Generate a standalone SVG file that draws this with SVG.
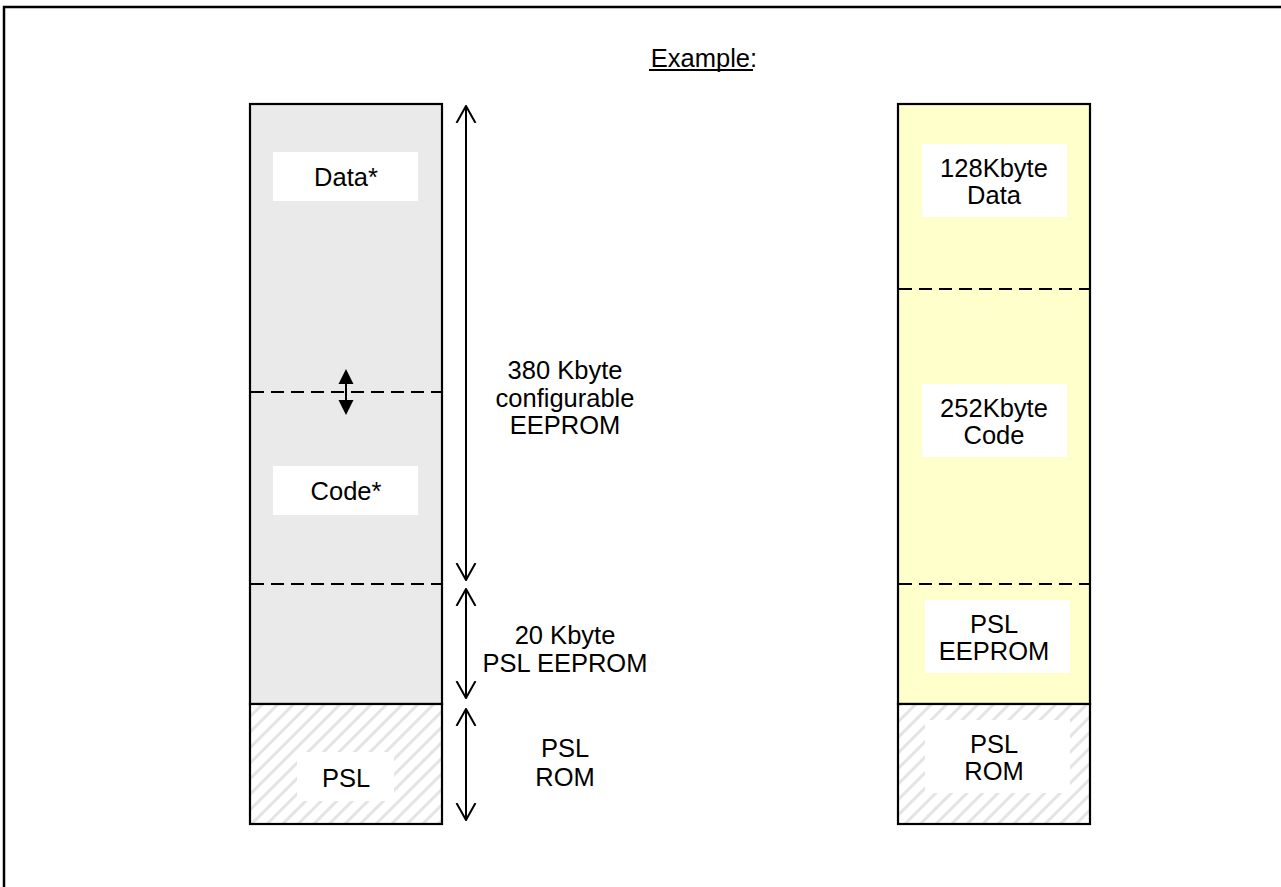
<svg xmlns="http://www.w3.org/2000/svg" width="1281" height="887" viewBox="0 0 1281 887">
<style>
text{font-family:"Liberation Sans",Arial,sans-serif;font-size:25.5px;fill:#000;text-anchor:middle}
.col{stroke:#000;stroke-width:2.2}
.dash{stroke:#000;stroke-width:2;stroke-dasharray:13 7;fill:none}
.lbl{fill:#fff}
.arr{stroke:#000;stroke-width:2;fill:none}
</style>
<defs>
<pattern id="hatch" patternUnits="userSpaceOnUse" width="11" height="11" patternTransform="rotate(45)">
<rect width="11" height="11" fill="#fff"/>
<rect x="0" y="0" width="3" height="11" fill="#e4e4e4"/>
</pattern>
<marker id="open" viewBox="0 0 18 22" refX="17" refY="11" markerWidth="18" markerHeight="22" markerUnits="userSpaceOnUse" orient="auto-start-reverse">
<path d="M0,1.5 L17,11 L0,20.5" fill="none" stroke="#000" stroke-width="2"/>
</marker>
</defs>
<rect x="4" y="7" width="1300" height="900" fill="#fff" stroke="#000" stroke-width="2.5"/>
<g id="title"><text x="704" y="67">Example:</text><line x1="649" y1="70" x2="753" y2="70" stroke="#000" stroke-width="2"/></g>

<g id="left-column">
<rect class="col" x="250" y="104" width="192" height="600" fill="#eaeaea"/>
<rect class="col" x="250" y="704" width="192" height="120" fill="url(#hatch)"/>
<line class="dash" x1="251" y1="392" x2="441" y2="392"/>
<line class="dash" x1="251" y1="584" x2="441" y2="584"/>
</g>
<g id="left-data"><rect class="lbl" x="273" y="152" width="145" height="49"/><text x="346" y="186">Data*</text></g>
<g id="left-code"><rect class="lbl" x="273" y="466" width="145" height="49"/><text x="346" y="500">Code*</text></g>
<g id="left-psl"><rect class="lbl" x="297" y="752" width="97" height="49"/><text x="346" y="787">PSL</text></g>

<g id="right-column">
<rect class="col" x="898" y="104" width="192" height="600" fill="#ffffcc"/>
<rect class="col" x="898" y="704" width="192" height="120" fill="url(#hatch)"/>
<line class="dash" x1="899" y1="289" x2="1089" y2="289"/>
<line class="dash" x1="899" y1="584" x2="1089" y2="584"/>
</g>
<g id="right-data"><rect class="lbl" x="922" y="144" width="145" height="73"/><text x="994" y="177">128Kbyte</text><text x="994" y="204">Data</text></g>
<g id="right-code"><rect class="lbl" x="922" y="384" width="145" height="73"/><text x="994" y="417">252Kbyte</text><text x="994" y="444">Code</text></g>
<g id="right-psl-eeprom"><rect class="lbl" x="925" y="600" width="145" height="73"/><text x="994" y="633">PSL</text><text x="994" y="660">EEPROM</text></g>
<g id="right-psl-rom"><rect class="lbl" x="925" y="720" width="145" height="73"/><text x="994" y="753">PSL</text><text x="994" y="780">ROM</text></g>

<g id="connectors">
<line class="arr" x1="466" y1="106" x2="466" y2="580" marker-start="url(#open)" marker-end="url(#open)"/>
<line class="arr" x1="466" y1="589" x2="466" y2="698" marker-start="url(#open)" marker-end="url(#open)"/>
<line class="arr" x1="466" y1="709" x2="466" y2="820" marker-start="url(#open)" marker-end="url(#open)"/>
<line x1="346" y1="380" x2="346" y2="404" stroke="#000" stroke-width="2"/>
<path d="M346,369 L353.5,384 L338.5,384 Z M346,415 L353.5,400 L338.5,400 Z" fill="#000"/>
</g>

<g id="label-380"><text x="565" y="379">380 Kbyte</text><text x="565" y="407">configurable</text><text x="565" y="434">EEPROM</text></g>
<g id="label-20"><text x="565" y="644">20 Kbyte</text><text x="565" y="672">PSL EEPROM</text></g>
<g id="label-rom"><text x="565" y="757">PSL</text><text x="565" y="786">ROM</text></g>
</svg>
